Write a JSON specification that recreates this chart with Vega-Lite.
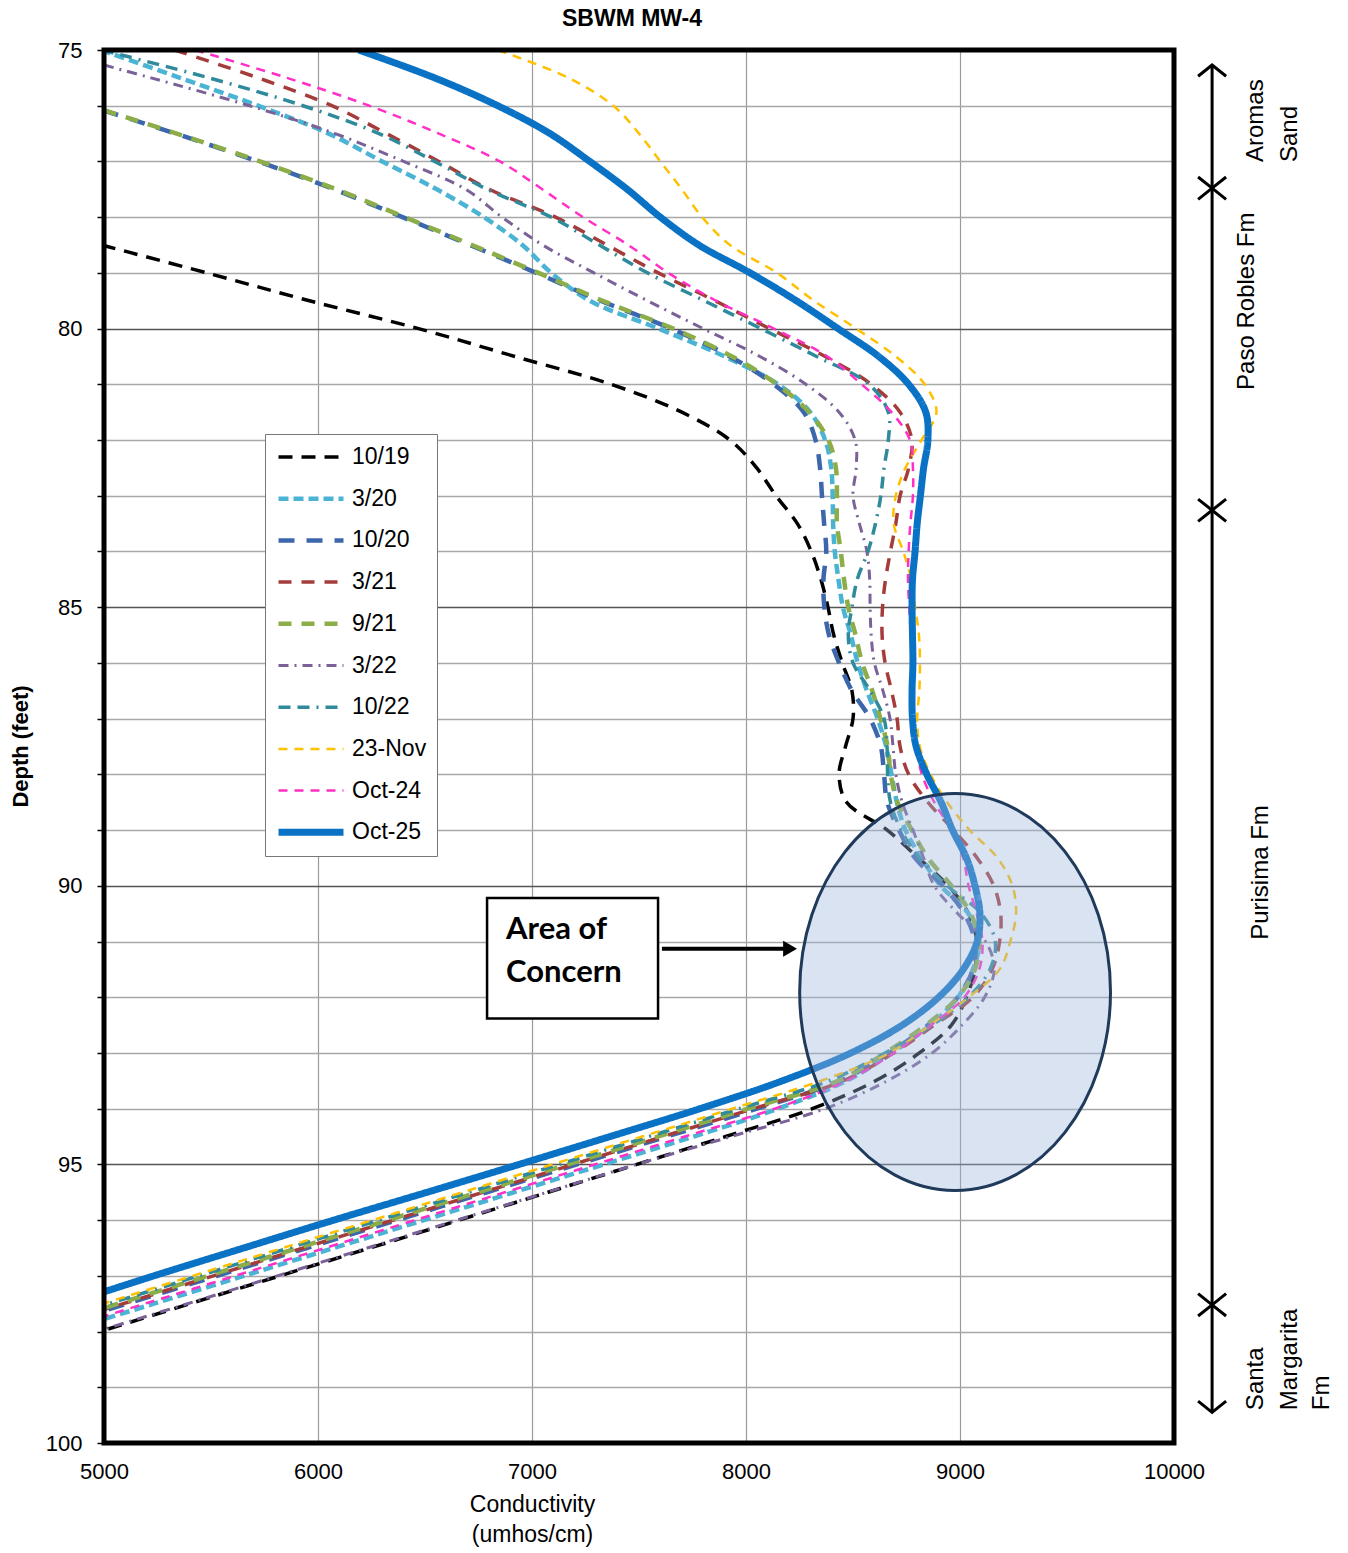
{
"$schema": "https://vega.github.io/schema/vega-lite/v6.json",
"width": 1070, "height": 1393,
"autosize": {"type": "none"},
"padding": {"left": 104, "top": 50, "right": 174, "bottom": 110},
"background": "white",
"title": {"text": "SBWM MW-4", "fontSize": 23, "font": "Liberation Sans", "fontWeight": "bold", "color": "black", "anchor": "middle", "dx": -7, "offset": 8},
"config": {"view": {"stroke": null}, "font": "Liberation Sans"},
"datasets": {
"curves": [
{"s":"10/19","d":78.5,"c":4990},{"s":"10/19","d":79,"c":5480},{"s":"10/19","d":79.5,"c":5960},{"s":"10/19","d":80,"c":6470},{"s":"10/19","d":80.5,"c":6920},{"s":"10/19","d":81,"c":7370},{"s":"10/19","d":81.5,"c":7700},{"s":"10/19","d":82,"c":7925},{"s":"10/19","d":82.5,"c":8050},{"s":"10/19","d":83,"c":8140},{"s":"10/19","d":83.5,"c":8240},{"s":"10/19","d":84,"c":8305},{"s":"10/19","d":84.5,"c":8350},{"s":"10/19","d":85,"c":8383},{"s":"10/19","d":85.5,"c":8410},{"s":"10/19","d":86,"c":8450},{"s":"10/19","d":86.5,"c":8495},{"s":"10/19","d":87,"c":8500},{"s":"10/19","d":87.5,"c":8465},{"s":"10/19","d":88,"c":8435},{"s":"10/19","d":88.5,"c":8470},{"s":"10/19","d":89,"c":8660},{"s":"10/19","d":89.5,"c":8805},{"s":"10/19","d":90,"c":8945},{"s":"10/19","d":90.5,"c":9040},{"s":"10/19","d":91,"c":9079},{"s":"10/19","d":91.5,"c":9070},{"s":"10/19","d":92,"c":9030},{"s":"10/19","d":92.5,"c":8960},{"s":"10/19","d":93,"c":8810},{"s":"10/19","d":93.5,"c":8605},{"s":"10/19","d":94,"c":8310},{"s":"10/19","d":94.5,"c":7905},{"s":"10/19","d":95,"c":7490},{"s":"10/19","d":95.5,"c":7075},{"s":"10/19","d":96,"c":6660},{"s":"10/19","d":96.5,"c":6243},{"s":"10/19","d":97,"c":5822},{"s":"10/19","d":97.5,"c":5402},{"s":"10/19","d":98,"c":4981},
{"s":"3/20","d":75,"c":4985},{"s":"3/20","d":75.5,"c":5355},{"s":"3/20","d":76,"c":5720},{"s":"3/20","d":76.5,"c":6050},{"s":"3/20","d":77,"c":6300},{"s":"3/20","d":77.5,"c":6555},{"s":"3/20","d":78,"c":6775},{"s":"3/20","d":78.5,"c":6955},{"s":"3/20","d":79,"c":7090},{"s":"3/20","d":79.5,"c":7270},{"s":"3/20","d":80,"c":7590},{"s":"3/20","d":80.5,"c":7900},{"s":"3/20","d":81,"c":8150},{"s":"3/20","d":81.5,"c":8300},{"s":"3/20","d":82,"c":8370},{"s":"3/20","d":82.5,"c":8398},{"s":"3/20","d":83,"c":8405},{"s":"3/20","d":83.5,"c":8407},{"s":"3/20","d":84,"c":8415},{"s":"3/20","d":84.5,"c":8432},{"s":"3/20","d":85,"c":8453},{"s":"3/20","d":85.5,"c":8490},{"s":"3/20","d":86,"c":8522},{"s":"3/20","d":86.5,"c":8565},{"s":"3/20","d":87,"c":8615},{"s":"3/20","d":87.5,"c":8655},{"s":"3/20","d":88,"c":8680},{"s":"3/20","d":88.5,"c":8705},{"s":"3/20","d":89,"c":8745},{"s":"3/20","d":89.5,"c":8820},{"s":"3/20","d":90,"c":8910},{"s":"3/20","d":90.5,"c":9040},{"s":"3/20","d":91,"c":9090},{"s":"3/20","d":91.5,"c":9060},{"s":"3/20","d":92,"c":8990},{"s":"3/20","d":92.5,"c":8860},{"s":"3/20","d":93,"c":8680},{"s":"3/20","d":93.5,"c":8470},{"s":"3/20","d":94,"c":8150},{"s":"3/20","d":94.5,"c":7756},{"s":"3/20","d":95,"c":7336},{"s":"3/20","d":95.5,"c":6915},{"s":"3/20","d":96,"c":6495},{"s":"3/20","d":96.5,"c":6074},{"s":"3/20","d":97,"c":5654},{"s":"3/20","d":97.5,"c":5233},{"s":"3/20","d":97.8,"c":4981},
{"s":"10/20","d":76.08,"c":4995},{"s":"10/20","d":76.5,"c":5335},{"s":"10/20","d":77,"c":5720},{"s":"10/20","d":77.5,"c":6075},{"s":"10/20","d":78,"c":6395},{"s":"10/20","d":78.5,"c":6710},{"s":"10/20","d":79,"c":7020},{"s":"10/20","d":79.5,"c":7320},{"s":"10/20","d":80,"c":7650},{"s":"10/20","d":80.5,"c":7925},{"s":"10/20","d":81,"c":8130},{"s":"10/20","d":81.5,"c":8270},{"s":"10/20","d":82,"c":8325},{"s":"10/20","d":82.5,"c":8346},{"s":"10/20","d":83,"c":8355},{"s":"10/20","d":83.5,"c":8365},{"s":"10/20","d":84,"c":8375},{"s":"10/20","d":84.5,"c":8362},{"s":"10/20","d":85,"c":8366},{"s":"10/20","d":85.5,"c":8388},{"s":"10/20","d":86,"c":8435},{"s":"10/20","d":86.5,"c":8495},{"s":"10/20","d":87,"c":8580},{"s":"10/20","d":87.5,"c":8630},{"s":"10/20","d":88,"c":8645},{"s":"10/20","d":88.5,"c":8660},{"s":"10/20","d":89,"c":8715},{"s":"10/20","d":89.5,"c":8790},{"s":"10/20","d":90,"c":8920},{"s":"10/20","d":90.5,"c":9020},{"s":"10/20","d":91,"c":9070},{"s":"10/20","d":91.5,"c":9060},{"s":"10/20","d":92,"c":8990},{"s":"10/20","d":92.5,"c":8850},{"s":"10/20","d":93,"c":8670},{"s":"10/20","d":93.5,"c":8440},{"s":"10/20","d":94,"c":8051},{"s":"10/20","d":94.5,"c":7630},{"s":"10/20","d":95,"c":7210},{"s":"10/20","d":95.5,"c":6789},{"s":"10/20","d":96,"c":6369},{"s":"10/20","d":96.5,"c":5948},{"s":"10/20","d":97,"c":5528},{"s":"10/20","d":97.65,"c":4981},
{"s":"3/21","d":75,"c":5330},{"s":"3/21","d":75.5,"c":5720},{"s":"3/21","d":76,"c":6065},{"s":"3/21","d":76.5,"c":6320},{"s":"3/21","d":77,"c":6565},{"s":"3/21","d":77.5,"c":6800},{"s":"3/21","d":78,"c":7110},{"s":"3/21","d":78.5,"c":7350},{"s":"3/21","d":79,"c":7590},{"s":"3/21","d":79.5,"c":7855},{"s":"3/21","d":80,"c":8110},{"s":"3/21","d":80.5,"c":8370},{"s":"3/21","d":81,"c":8585},{"s":"3/21","d":81.5,"c":8720},{"s":"3/21","d":82,"c":8775},{"s":"3/21","d":82.5,"c":8760},{"s":"3/21","d":83,"c":8720},{"s":"3/21","d":83.5,"c":8700},{"s":"3/21","d":84,"c":8675},{"s":"3/21","d":84.5,"c":8652},{"s":"3/21","d":85,"c":8638},{"s":"3/21","d":85.5,"c":8636},{"s":"3/21","d":86,"c":8650},{"s":"3/21","d":86.5,"c":8680},{"s":"3/21","d":87,"c":8706},{"s":"3/21","d":87.5,"c":8720},{"s":"3/21","d":88,"c":8760},{"s":"3/21","d":88.5,"c":8850},{"s":"3/21","d":89,"c":8970},{"s":"3/21","d":89.5,"c":9080},{"s":"3/21","d":90,"c":9158},{"s":"3/21","d":90.5,"c":9190},{"s":"3/21","d":91,"c":9185},{"s":"3/21","d":91.5,"c":9150},{"s":"3/21","d":92,"c":9060},{"s":"3/21","d":92.5,"c":8880},{"s":"3/21","d":93,"c":8690},{"s":"3/21","d":93.5,"c":8454},{"s":"3/21","d":94,"c":8034},{"s":"3/21","d":94.5,"c":7613},{"s":"3/21","d":95,"c":7193},{"s":"3/21","d":95.5,"c":6772},{"s":"3/21","d":96,"c":6352},{"s":"3/21","d":96.5,"c":5931},{"s":"3/21","d":97,"c":5511},{"s":"3/21","d":97.5,"c":5090},{"s":"3/21","d":97.63,"c":4981},
{"s":"9/21","d":76.08,"c":5000},{"s":"9/21","d":76.5,"c":5340},{"s":"9/21","d":77,"c":5729},{"s":"9/21","d":77.5,"c":6085},{"s":"9/21","d":78,"c":6405},{"s":"9/21","d":78.5,"c":6720},{"s":"9/21","d":79,"c":7030},{"s":"9/21","d":79.5,"c":7330},{"s":"9/21","d":80,"c":7660},{"s":"9/21","d":80.5,"c":7935},{"s":"9/21","d":81,"c":8145},{"s":"9/21","d":81.5,"c":8295},{"s":"9/21","d":82,"c":8385},{"s":"9/21","d":82.5,"c":8420},{"s":"9/21","d":83,"c":8425},{"s":"9/21","d":83.5,"c":8425},{"s":"9/21","d":84,"c":8443},{"s":"9/21","d":84.5,"c":8458},{"s":"9/21","d":85,"c":8478},{"s":"9/21","d":85.5,"c":8512},{"s":"9/21","d":86,"c":8543},{"s":"9/21","d":86.5,"c":8590},{"s":"9/21","d":87,"c":8628},{"s":"9/21","d":87.5,"c":8662},{"s":"9/21","d":88,"c":8676},{"s":"9/21","d":88.5,"c":8708},{"s":"9/21","d":89,"c":8775},{"s":"9/21","d":89.5,"c":8850},{"s":"9/21","d":90,"c":8960},{"s":"9/21","d":90.5,"c":9050},{"s":"9/21","d":91,"c":9090},{"s":"9/21","d":91.5,"c":9070},{"s":"9/21","d":92,"c":8990},{"s":"9/21","d":92.5,"c":8840},{"s":"9/21","d":93,"c":8650},{"s":"9/21","d":93.5,"c":8429},{"s":"9/21","d":94,"c":8009},{"s":"9/21","d":94.5,"c":7588},{"s":"9/21","d":95,"c":7168},{"s":"9/21","d":95.5,"c":6747},{"s":"9/21","d":96,"c":6327},{"s":"9/21","d":96.5,"c":5906},{"s":"9/21","d":97,"c":5486},{"s":"9/21","d":97.6,"c":4981},
{"s":"3/22","d":75.27,"c":5000},{"s":"3/22","d":75.5,"c":5220},{"s":"3/22","d":76,"c":5680},{"s":"3/22","d":76.5,"c":6080},{"s":"3/22","d":77,"c":6400},{"s":"3/22","d":77.5,"c":6690},{"s":"3/22","d":78,"c":6860},{"s":"3/22","d":78.5,"c":7050},{"s":"3/22","d":79,"c":7290},{"s":"3/22","d":79.5,"c":7540},{"s":"3/22","d":80,"c":7800},{"s":"3/22","d":80.5,"c":8065},{"s":"3/22","d":81,"c":8280},{"s":"3/22","d":81.5,"c":8435},{"s":"3/22","d":82,"c":8510},{"s":"3/22","d":82.5,"c":8515},{"s":"3/22","d":83,"c":8500},{"s":"3/22","d":83.5,"c":8530},{"s":"3/22","d":84,"c":8565},{"s":"3/22","d":84.5,"c":8578},{"s":"3/22","d":85,"c":8580},{"s":"3/22","d":85.5,"c":8585},{"s":"3/22","d":86,"c":8600},{"s":"3/22","d":86.5,"c":8640},{"s":"3/22","d":87,"c":8673},{"s":"3/22","d":87.5,"c":8687},{"s":"3/22","d":88,"c":8700},{"s":"3/22","d":88.5,"c":8730},{"s":"3/22","d":89,"c":8780},{"s":"3/22","d":89.5,"c":8830},{"s":"3/22","d":90,"c":8880},{"s":"3/22","d":90.5,"c":8990},{"s":"3/22","d":91,"c":9120},{"s":"3/22","d":91.5,"c":9160},{"s":"3/22","d":92,"c":9115},{"s":"3/22","d":92.5,"c":9010},{"s":"3/22","d":93,"c":8870},{"s":"3/22","d":93.5,"c":8660},{"s":"3/22","d":94,"c":8370},{"s":"3/22","d":94.5,"c":7930},{"s":"3/22","d":95,"c":7490},{"s":"3/22","d":95.5,"c":7070},{"s":"3/22","d":96,"c":6650},{"s":"3/22","d":96.5,"c":6230},{"s":"3/22","d":97,"c":5810},{"s":"3/22","d":97.5,"c":5390},{"s":"3/22","d":97.98,"c":4981},
{"s":"10/22","d":75,"c":4990},{"s":"10/22","d":75.5,"c":5490},{"s":"10/22","d":76,"c":5930},{"s":"10/22","d":76.5,"c":6285},{"s":"10/22","d":77,"c":6545},{"s":"10/22","d":77.5,"c":6790},{"s":"10/22","d":78,"c":7090},{"s":"10/22","d":78.5,"c":7315},{"s":"10/22","d":79,"c":7540},{"s":"10/22","d":79.5,"c":7805},{"s":"10/22","d":80,"c":8070},{"s":"10/22","d":80.5,"c":8330},{"s":"10/22","d":81,"c":8575},{"s":"10/22","d":81.5,"c":8665},{"s":"10/22","d":82,"c":8665},{"s":"10/22","d":82.5,"c":8645},{"s":"10/22","d":83,"c":8630},{"s":"10/22","d":83.5,"c":8605},{"s":"10/22","d":84,"c":8570},{"s":"10/22","d":84.5,"c":8520},{"s":"10/22","d":85,"c":8495},{"s":"10/22","d":85.5,"c":8478},{"s":"10/22","d":86,"c":8500},{"s":"10/22","d":86.5,"c":8580},{"s":"10/22","d":87,"c":8645},{"s":"10/22","d":87.5,"c":8659},{"s":"10/22","d":88,"c":8662},{"s":"10/22","d":88.5,"c":8675},{"s":"10/22","d":89,"c":8725},{"s":"10/22","d":89.5,"c":8810},{"s":"10/22","d":90,"c":8940},{"s":"10/22","d":90.5,"c":9100},{"s":"10/22","d":91,"c":9165},{"s":"10/22","d":91.5,"c":9140},{"s":"10/22","d":92,"c":9040},{"s":"10/22","d":92.5,"c":8870},{"s":"10/22","d":93,"c":8650},{"s":"10/22","d":93.5,"c":8387},{"s":"10/22","d":94,"c":7967},{"s":"10/22","d":94.5,"c":7546},{"s":"10/22","d":95,"c":7126},{"s":"10/22","d":95.5,"c":6705},{"s":"10/22","d":96,"c":6285},{"s":"10/22","d":96.5,"c":5864},{"s":"10/22","d":97,"c":5444},{"s":"10/22","d":97.55,"c":4981},
{"s":"23-Nov","d":75,"c":6840},{"s":"23-Nov","d":75.5,"c":7170},{"s":"23-Nov","d":76,"c":7380},{"s":"23-Nov","d":76.5,"c":7500},{"s":"23-Nov","d":77,"c":7600},{"s":"23-Nov","d":77.5,"c":7700},{"s":"23-Nov","d":78,"c":7795},{"s":"23-Nov","d":78.5,"c":7925},{"s":"23-Nov","d":79,"c":8145},{"s":"23-Nov","d":79.5,"c":8318},{"s":"23-Nov","d":80,"c":8515},{"s":"23-Nov","d":80.5,"c":8700},{"s":"23-Nov","d":81,"c":8835},{"s":"23-Nov","d":81.5,"c":8890},{"s":"23-Nov","d":82,"c":8820},{"s":"23-Nov","d":82.5,"c":8745},{"s":"23-Nov","d":83,"c":8700},{"s":"23-Nov","d":83.5,"c":8690},{"s":"23-Nov","d":84,"c":8735},{"s":"23-Nov","d":84.5,"c":8772},{"s":"23-Nov","d":85,"c":8790},{"s":"23-Nov","d":85.5,"c":8808},{"s":"23-Nov","d":86,"c":8813},{"s":"23-Nov","d":86.5,"c":8810},{"s":"23-Nov","d":87,"c":8800},{"s":"23-Nov","d":87.5,"c":8812},{"s":"23-Nov","d":88,"c":8862},{"s":"23-Nov","d":88.5,"c":8940},{"s":"23-Nov","d":89,"c":9045},{"s":"23-Nov","d":89.5,"c":9175},{"s":"23-Nov","d":90,"c":9245},{"s":"23-Nov","d":90.5,"c":9262},{"s":"23-Nov","d":91,"c":9235},{"s":"23-Nov","d":91.5,"c":9185},{"s":"23-Nov","d":92,"c":9040},{"s":"23-Nov","d":92.5,"c":8860},{"s":"23-Nov","d":93,"c":8670},{"s":"23-Nov","d":93.5,"c":8350},{"s":"23-Nov","d":94,"c":7935},{"s":"23-Nov","d":94.5,"c":7515},{"s":"23-Nov","d":95,"c":7095},{"s":"23-Nov","d":95.5,"c":6675},{"s":"23-Nov","d":96,"c":6255},{"s":"23-Nov","d":96.5,"c":5835},{"s":"23-Nov","d":97,"c":5415},{"s":"23-Nov","d":97.5,"c":4995},
{"s":"Oct-24","d":75,"c":5425},{"s":"Oct-24","d":75.5,"c":5855},{"s":"Oct-24","d":76,"c":6240},{"s":"Oct-24","d":76.5,"c":6565},{"s":"Oct-24","d":77,"c":6850},{"s":"Oct-24","d":77.5,"c":7048},{"s":"Oct-24","d":78,"c":7238},{"s":"Oct-24","d":78.5,"c":7450},{"s":"Oct-24","d":79,"c":7637},{"s":"Oct-24","d":79.5,"c":7860},{"s":"Oct-24","d":80,"c":8130},{"s":"Oct-24","d":80.5,"c":8380},{"s":"Oct-24","d":81,"c":8540},{"s":"Oct-24","d":81.5,"c":8680},{"s":"Oct-24","d":82,"c":8766},{"s":"Oct-24","d":82.5,"c":8780},{"s":"Oct-24","d":83,"c":8780},{"s":"Oct-24","d":83.5,"c":8768},{"s":"Oct-24","d":84,"c":8760},{"s":"Oct-24","d":84.5,"c":8757},{"s":"Oct-24","d":85,"c":8763},{"s":"Oct-24","d":85.5,"c":8770},{"s":"Oct-24","d":86,"c":8778},{"s":"Oct-24","d":86.5,"c":8780},{"s":"Oct-24","d":87,"c":8780},{"s":"Oct-24","d":87.5,"c":8795},{"s":"Oct-24","d":88,"c":8822},{"s":"Oct-24","d":88.5,"c":8880},{"s":"Oct-24","d":89,"c":8960},{"s":"Oct-24","d":89.5,"c":9015},{"s":"Oct-24","d":90,"c":9040},{"s":"Oct-24","d":90.5,"c":9078},{"s":"Oct-24","d":91,"c":9105},{"s":"Oct-24","d":91.5,"c":9090},{"s":"Oct-24","d":92,"c":9020},{"s":"Oct-24","d":92.5,"c":8865},{"s":"Oct-24","d":93,"c":8690},{"s":"Oct-24","d":93.5,"c":8470},{"s":"Oct-24","d":94,"c":8135},{"s":"Oct-24","d":94.5,"c":7714},{"s":"Oct-24","d":95,"c":7294},{"s":"Oct-24","d":95.5,"c":6873},{"s":"Oct-24","d":96,"c":6453},{"s":"Oct-24","d":96.5,"c":6033},{"s":"Oct-24","d":97,"c":5612},{"s":"Oct-24","d":97.5,"c":5191},{"s":"Oct-24","d":97.75,"c":4981},
{"s":"Oct-25","d":75,"c":6190},{"s":"Oct-25","d":75.5,"c":6545},{"s":"Oct-25","d":76,"c":6840},{"s":"Oct-25","d":76.5,"c":7084},{"s":"Oct-25","d":77,"c":7270},{"s":"Oct-25","d":77.5,"c":7445},{"s":"Oct-25","d":78,"c":7600},{"s":"Oct-25","d":78.5,"c":7780},{"s":"Oct-25","d":79,"c":8019},{"s":"Oct-25","d":79.5,"c":8235},{"s":"Oct-25","d":80,"c":8430},{"s":"Oct-25","d":80.5,"c":8620},{"s":"Oct-25","d":81,"c":8760},{"s":"Oct-25","d":81.5,"c":8840},{"s":"Oct-25","d":82,"c":8850},{"s":"Oct-25","d":82.5,"c":8830},{"s":"Oct-25","d":83,"c":8815},{"s":"Oct-25","d":83.5,"c":8800},{"s":"Oct-25","d":84,"c":8790},{"s":"Oct-25","d":84.5,"c":8778},{"s":"Oct-25","d":85,"c":8776},{"s":"Oct-25","d":85.5,"c":8778},{"s":"Oct-25","d":86,"c":8780},{"s":"Oct-25","d":86.5,"c":8776},{"s":"Oct-25","d":87,"c":8778},{"s":"Oct-25","d":87.5,"c":8795},{"s":"Oct-25","d":88,"c":8845},{"s":"Oct-25","d":88.5,"c":8912},{"s":"Oct-25","d":89,"c":8965},{"s":"Oct-25","d":89.5,"c":9030},{"s":"Oct-25","d":90,"c":9070},{"s":"Oct-25","d":90.5,"c":9093},{"s":"Oct-25","d":91,"c":9080},{"s":"Oct-25","d":91.5,"c":9015},{"s":"Oct-25","d":92,"c":8900},{"s":"Oct-25","d":92.5,"c":8730},{"s":"Oct-25","d":93,"c":8490},{"s":"Oct-25","d":93.5,"c":8170},{"s":"Oct-25","d":94,"c":7785},{"s":"Oct-25","d":94.5,"c":7365},{"s":"Oct-25","d":95,"c":6940},{"s":"Oct-25","d":95.5,"c":6510},{"s":"Oct-25","d":96,"c":6074},{"s":"Oct-25","d":96.5,"c":5653},{"s":"Oct-25","d":97,"c":5233},{"s":"Oct-25","d":97.3,"c":4990}
]
},
"layer": [
{
"data": {"name": "curves"},
"mark": {"type": "line", "clip": true, "interpolate": "catmull-rom"},
"encoding": {
"x": {"field": "c", "type": "quantitative", "scale": {"domain": [5000, 10000], "nice": false, "zero": false},
 "axis": {"values": [5000, 6000, 7000, 8000, 9000, 10000], "format": "d", "grid": true, "gridColor": "#9a9a9a", "gridWidth": 1.2, "domain": false, "ticks": false, "labelPadding": 18, "labelFontSize": 22, "labelFont": "Liberation Sans", "labelColor": "black", "labelFlush": false, "title": ["Conductivity", "(umhos/cm)"], "titleFontSize": 23, "titleFontWeight": "normal", "titleFont": "Liberation Sans", "titleColor": "black", "titleX": 428, "titleY": 50, "titleBaseline": "top", "titleAlign": "center", "titleLineHeight": 30}},
"y": {"field": "d", "type": "quantitative", "scale": {"domain": [75, 100], "reverse": true, "nice": false, "zero": false},
 "axis": {"values": [75,76,77,78,79,80,81,82,83,84,85,86,87,88,89,90,91,92,93,94,95,96,97,98,99,100], "labelExpr": "datum.value % 5 === 0 ? datum.label : ''", "grid": true, "gridColor": {"condition": {"test": "datum.value % 5 === 0", "value": "#555555"}, "value": "#a8a8a8"}, "gridWidth": 1.3, "domain": false, "tickSize": 7, "tickColor": "black", "tickWidth": 1.5, "labelPadding": 15, "labelFontSize": 22, "labelFont": "Liberation Sans", "labelColor": "black", "labelFlush": false, "labelOverlap": false, "labelBaseline": "middle", "title": "Depth (feet)", "titleFontSize": 22, "titleFont": "Liberation Sans", "titleFontWeight": "bold", "titleColor": "black", "titleX": -84, "titleY": 696, "titleAngle": 270, "titleAlign": "center", "titleBaseline": "middle"}},
"order": {"field": "d", "type": "quantitative"},
"color": {"field": "s", "type": "nominal",
 "scale": {"domain": ["10/19","3/20","10/20","3/21","9/21","3/22","10/22","23-Nov","Oct-24","Oct-25"], "range": ["#000000","#4bb3d3","#3d67ad","#a53c3c","#8cad48","#7a6298","#2f8a9c","#ffc000","#ff2fc8","#0a72c4"]},
 "legend": {"orient": "none", "legendX": 161, "legendY": 384, "title": null, "symbolType": "stroke", "symbolSize": 4225, "clipHeight": 26, "rowPadding": 15.7, "padding": 10, "labelFontSize": 23, "labelFont": "Liberation Sans", "labelColor": "black", "labelOffset": 5, "strokeColor": "#777777", "fillColor": "white", "labelExpr": "((datum.label === '10/20' || datum.label === '9/21') ? '\u00a0' : '') + datum.label + '\u00a0'"}},
"strokeDash": {"field": "s", "type": "nominal",
 "scale": {"domain": ["10/19","3/20","10/20","3/21","9/21","3/22","10/22","23-Nov","Oct-24","Oct-25"], "range": [[14,9],[10,5],[16,12],[13,10],[13,10],[10,6,2,6],[12,7,12,7,2,7],[9,7],[9,7],[1,0]]},
 "legend": {"orient": "none", "legendX": 161, "legendY": 384, "title": null, "symbolType": "stroke", "symbolSize": 4225, "clipHeight": 26, "rowPadding": 15.7, "padding": 10, "labelFontSize": 23, "labelFont": "Liberation Sans", "labelColor": "black", "labelOffset": 5, "strokeColor": "#777777", "fillColor": "white", "labelExpr": "((datum.label === '10/20' || datum.label === '9/21') ? '\u00a0' : '') + datum.label + '\u00a0'"}},
"strokeWidth": {"field": "s", "type": "nominal",
 "scale": {"type": "ordinal", "domain": ["10/19","3/20","10/20","3/21","9/21","3/22","10/22","23-Nov","Oct-24","Oct-25"], "range": [3.5,4.5,4.5,3.5,4.5,3,3.5,2.5,2.5,7]},
 "legend": {"orient": "none", "legendX": 161, "legendY": 384, "title": null, "symbolType": "stroke", "symbolSize": 4225, "clipHeight": 26, "rowPadding": 15.7, "padding": 10, "labelFontSize": 23, "labelFont": "Liberation Sans", "labelColor": "black", "labelOffset": 5, "strokeColor": "#777777", "fillColor": "white", "labelExpr": "((datum.label === '10/20' || datum.label === '9/21') ? '\u00a0' : '') + datum.label + '\u00a0'"}}
}
},
{
"data": {"values": [{"c": 8977, "d": 91.906}]},
"mark": {"type": "point", "shape": "M-0.783,0A0.783,1,0,1,1,0.783,0A0.783,1,0,1,1,-0.783,0Z", "size": 157609, "filled": true, "fill": "#9fb6dc", "fillOpacity": 0.38, "stroke": "#1f3a5a", "strokeWidth": 3, "strokeOpacity": 1, "opacity": 1},
"encoding": {
"x": {"field": "c", "type": "quantitative", "scale": {"domain": [5000, 10000], "nice": false, "zero": false}},
"y": {"field": "d", "type": "quantitative", "scale": {"domain": [75, 100], "reverse": true, "nice": false, "zero": false}}
}
},
{
"data": {"values": [{"c": 5000, "c2": 10000, "d": 75, "d2": 100}]},
"mark": {"type": "rect", "fill": "white", "fillOpacity": 0, "stroke": "black", "strokeWidth": 5},
"encoding": {
"x": {"field": "c", "type": "quantitative", "scale": {"domain": [5000, 10000], "nice": false, "zero": false}},
"x2": {"field": "c2"},
"y": {"field": "d", "type": "quantitative", "scale": {"domain": [75, 100], "reverse": true, "nice": false, "zero": false}},
"y2": {"field": "d2"}
}
},
{
"data": {"values": [{"c": 6790, "c2": 7589, "d": 90.22, "d2": 92.38}]},
"mark": {"type": "rect", "fill": "white", "stroke": "black", "strokeWidth": 2.5},
"encoding": {
"x": {"field": "c", "type": "quantitative", "scale": {"domain": [5000, 10000], "nice": false, "zero": false}},
"x2": {"field": "c2"},
"y": {"field": "d", "type": "quantitative", "scale": {"domain": [75, 100], "reverse": true, "nice": false, "zero": false}},
"y2": {"field": "d2"}
}
},
{
"data": {"values": [{"t": "Area of", "c": 6879, "d": 90.79}, {"t": "Concern", "c": 6879, "d": 91.56}]},
"mark": {"type": "text", "font": "Lato", "fontWeight": "bold", "fontSize": 31, "align": "left", "baseline": "middle", "color": "black"},
"encoding": {
"x": {"field": "c", "type": "quantitative", "scale": {"domain": [5000, 10000], "nice": false, "zero": false}},
"y": {"field": "d", "type": "quantitative", "scale": {"domain": [75, 100], "reverse": true, "nice": false, "zero": false}},
"text": {"field": "t"}
}
},
{
"data": {"values": [{"c": 7607, "c2": 8190, "d": 91.13}]},
"mark": {"type": "rule", "color": "black", "strokeWidth": 4},
"encoding": {
"x": {"field": "c", "type": "quantitative", "scale": {"domain": [5000, 10000], "nice": false, "zero": false}},
"x2": {"field": "c2"},
"y": {"field": "d", "type": "quantitative", "scale": {"domain": [75, 100], "reverse": true, "nice": false, "zero": false}}
}
},
{
"data": {"values": [{"c": 8206, "d": 91.13}]},
"mark": {"type": "point", "shape": "triangle-right", "size": 256, "filled": true, "color": "black", "opacity": 1},
"encoding": {
"x": {"field": "c", "type": "quantitative", "scale": {"domain": [5000, 10000], "nice": false, "zero": false}},
"y": {"field": "d", "type": "quantitative", "scale": {"domain": [75, 100], "reverse": true, "nice": false, "zero": false}}
}
},
{
"data": {"values": [{"c": 10178, "d": 75.27, "d2": 99.45}]},
"mark": {"type": "rule", "color": "black", "strokeWidth": 3},
"encoding": {
"x": {"field": "c", "type": "quantitative", "scale": {"domain": [5000, 10000], "nice": false, "zero": false}},
"y": {"field": "d", "type": "quantitative", "scale": {"domain": [75, 100], "reverse": true, "nice": false, "zero": false}},
"y2": {"field": "d2"}
}
},
{
"data": {"values": [{"c": 10178, "d": 77.48}, {"c": 10178, "d": 83.26}, {"c": 10178, "d": 97.52}, {"c": 10178, "d": 99.45}]},
"mark": {"type": "point", "shape": "M-1,-0.8L0,0L1,-0.8", "size": 784, "filled": false, "color": "black", "strokeWidth": 3, "opacity": 1},
"encoding": {
"x": {"field": "c", "type": "quantitative", "scale": {"domain": [5000, 10000], "nice": false, "zero": false}},
"y": {"field": "d", "type": "quantitative", "scale": {"domain": [75, 100], "reverse": true, "nice": false, "zero": false}}
}
},
{
"data": {"values": [{"c": 10178, "d": 75.27}, {"c": 10178, "d": 77.48}, {"c": 10178, "d": 83.26}, {"c": 10178, "d": 97.52}]},
"mark": {"type": "point", "shape": "M-1,0.8L0,0L1,0.8", "size": 784, "filled": false, "color": "black", "strokeWidth": 3, "opacity": 1},
"encoding": {
"x": {"field": "c", "type": "quantitative", "scale": {"domain": [5000, 10000], "nice": false, "zero": false}},
"y": {"field": "d", "type": "quantitative", "scale": {"domain": [75, 100], "reverse": true, "nice": false, "zero": false}}
}
},
{
"data": {"values": [
 {"t": "Aromas", "c": 10383, "d": 77.01},
 {"t": "Sand", "c": 10542, "d": 77.01},
 {"t": "Paso Robles  Fm", "c": 10341, "d": 81.1},
 {"t": "Purisima Fm", "c": 10407, "d": 90.97},
 {"t": "Santa", "c": 10383, "d": 99.41},
 {"t": "Margarita", "c": 10542, "d": 99.41},
 {"t": "Fm", "c": 10692, "d": 99.41}
]},
"mark": {"type": "text", "font": "Liberation Sans Narrow, Liberation Sans", "fontSize": 24, "angle": 270, "align": "left", "baseline": "middle", "color": "black"},
"encoding": {
"x": {"field": "c", "type": "quantitative", "scale": {"domain": [5000, 10000], "nice": false, "zero": false}},
"y": {"field": "d", "type": "quantitative", "scale": {"domain": [75, 100], "reverse": true, "nice": false, "zero": false}},
"text": {"field": "t"}
}
}
]
}
